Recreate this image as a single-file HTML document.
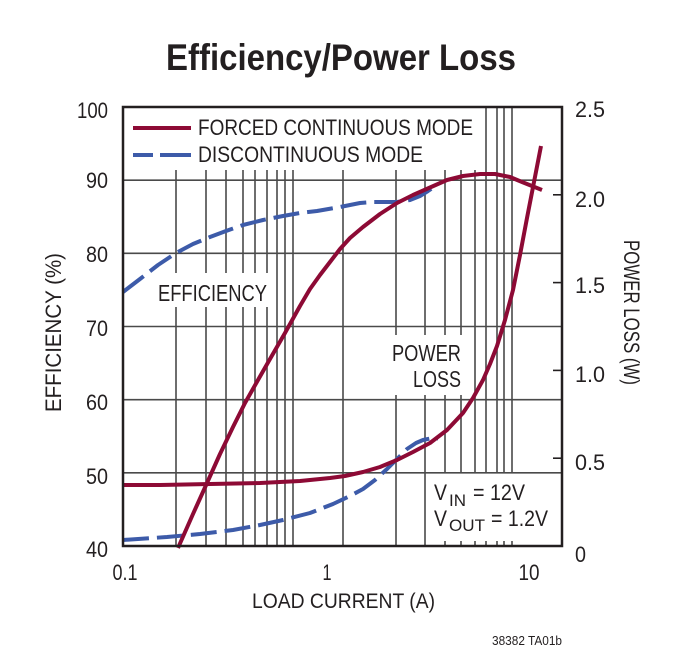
<!DOCTYPE html>
<html>
<head>
<meta charset="utf-8">
<style>
  html,body{margin:0;padding:0;background:#fff;}
  svg{display:block;}
  text{font-family:"Liberation Sans Narrow","Liberation Sans",sans-serif;fill:#231f20;}
</style>
</head>
<body>
<svg width="692" height="664" viewBox="0 0 692 664" xmlns="http://www.w3.org/2000/svg">
  <rect x="0" y="0" width="692" height="664" fill="#fff"/>

  <!-- Title -->
  <text x="166" y="70" font-size="37" font-weight="bold" textLength="350" lengthAdjust="spacingAndGlyphs">Efficiency/Power Loss</text>

  <!-- Horizontal grid -->
  <g stroke="#4a4a4a" stroke-width="1.6">
    <line x1="123" y1="180.2" x2="562" y2="180.2"/>
    <line x1="123" y1="253.3" x2="562" y2="253.3"/>
    <line x1="123" y1="326.5" x2="562" y2="326.5"/>
    <line x1="123" y1="399.7" x2="562" y2="399.7"/>
    <line x1="123" y1="472.8" x2="562" y2="472.8"/>
  </g>

  <!-- Vertical grid -->
  <g stroke="#4a4a4a" stroke-width="1.6">
    <!-- cut by legend and EFFICIENCY label -->
    <path d="M176 170V273M176 307V546
             M206 170V273M206 307V546
             M226 170V273M226 307V546
             M243 170V273M243 307V546
             M255 170V273M255 307V546
             M267 170V273M267 307V546"/>
    <!-- full below legend -->
    <path d="M277 170V546 M285 170V546 M293 170V546 M343 170V546"/>
    <!-- cut by POWER LOSS label -->
    <path d="M396 170V335M396 395V546
             M425 170V335M425 395V546"/>
    <path d="M445 170V335M445 395V473M445 541V546
             M461 170V335M461 395V473M461 541V546"/>
    <path d="M475 170V473M475 541V546"/>
    <path d="M486 107V473M486 541V546
             M497 107V473M497 541V546
             M504 107V473M504 541V546
             M512 107V473M512 541V546"/>
  </g>

  <!-- Right ticks -->
  <g stroke="#231f20" stroke-width="1.6">
    <line x1="553" y1="194.8" x2="562" y2="194.8"/>
    <line x1="553" y1="282.6" x2="562" y2="282.6"/>
    <line x1="553" y1="370.4" x2="562" y2="370.4"/>
    <line x1="553" y1="458.2" x2="562" y2="458.2"/>
  </g>

  <!-- Curves -->
  <g fill="none" stroke-width="4" stroke-linejoin="round" stroke-linecap="butt">
    <!-- DCM efficiency (blue dashed) -->
    <polyline stroke="#3d5ba9" stroke-dasharray="26 8"
      points="123,292 140,279 158,265 176,253 193,244 210,237 226,231 243,225 263,220 283,216 300,213 317,211 340,207 360,203 373,202 385,202 397,202 410,200 420,196 428,191 434,187"/>
    <!-- DCM power loss (blue dashed) -->
    <polyline stroke="#3d5ba9" stroke-dasharray="26 8"
      points="123,540 167,537 200,534 233,530 260,525 283,520 310,513 333,504 350,496 363,489 375,480 387,469 397,459 407,449 416,443 423,440 430,438.5 438,438.5"/>
    <!-- CCM efficiency (red) -->
    <polyline stroke="#8d0a35"
      points="178,548 193,514 207,483 220,454 233,427 245,403 258,380 270,359 285,333 300,306 310,289 320,275 330,262 340,249 350,238 363,227 380,214 397,203 413,195 430,187.5 447,180 463,176 480,174 495,174 510,177 522,182 537,188 542,190"/>
    <!-- CCM power loss (red) -->
    <polyline stroke="#8d0a35"
      points="123,485 160,485 210,484 260,483 300,481 330,478 345,476 363,472 380,467 397,460 413,452 430,443 447,430 463,413 473,398 483,380 490,364 497,346 505,320 513,290 520,255 527,218 534,182 541,146"/>
  </g>

  <!-- Frame -->
  <rect x="123" y="107" width="439" height="439" fill="none" stroke="#231f20" stroke-width="2.5"/>

  <!-- Legend -->
  <line x1="133" y1="128" x2="191" y2="128" stroke="#8d0a35" stroke-width="4"/>
  <line x1="133" y1="155" x2="153" y2="155" stroke="#3d5ba9" stroke-width="4"/>
  <line x1="160" y1="155" x2="191" y2="155" stroke="#3d5ba9" stroke-width="4"/>
  <text x="198" y="135" font-size="22" textLength="275" lengthAdjust="spacingAndGlyphs">FORCED CONTINUOUS MODE</text>
  <text x="198" y="162" font-size="22" textLength="225" lengthAdjust="spacingAndGlyphs">DISCONTINUOUS MODE</text>

  <!-- In-plot labels -->
  <text x="158" y="301" font-size="23" textLength="109" lengthAdjust="spacingAndGlyphs">EFFICIENCY</text>
  <text x="392" y="361" font-size="23" textLength="69" lengthAdjust="spacingAndGlyphs">POWER</text>
  <text x="413" y="387" font-size="23" textLength="48" lengthAdjust="spacingAndGlyphs">LOSS</text>

  <!-- VIN / VOUT -->
  <text x="434" y="500" font-size="22" textLength="13" lengthAdjust="spacingAndGlyphs">V</text>
  <text x="449" y="506" font-size="17" textLength="17" lengthAdjust="spacingAndGlyphs">IN</text>
  <text x="473" y="500" font-size="22" textLength="52" lengthAdjust="spacingAndGlyphs">= 12V</text>
  <text x="434" y="526" font-size="22" textLength="13" lengthAdjust="spacingAndGlyphs">V</text>
  <text x="449" y="531" font-size="17" textLength="36" lengthAdjust="spacingAndGlyphs">OUT</text>
  <text x="491" y="526" font-size="22" textLength="57" lengthAdjust="spacingAndGlyphs">= 1.2V</text>

  <!-- Left tick labels -->
  <g font-size="22" text-anchor="end">
    <text x="108" y="118" textLength="31" lengthAdjust="spacingAndGlyphs">100</text>
    <text x="108" y="188" textLength="22" lengthAdjust="spacingAndGlyphs">90</text>
    <text x="108" y="262" textLength="22" lengthAdjust="spacingAndGlyphs">80</text>
    <text x="108" y="336" textLength="22" lengthAdjust="spacingAndGlyphs">70</text>
    <text x="108" y="410" textLength="22" lengthAdjust="spacingAndGlyphs">60</text>
    <text x="108" y="484" textLength="22" lengthAdjust="spacingAndGlyphs">50</text>
    <text x="108" y="557" textLength="22" lengthAdjust="spacingAndGlyphs">40</text>
  </g>

  <!-- Right tick labels -->
  <g font-size="22">
    <text x="575" y="117" textLength="30" lengthAdjust="spacingAndGlyphs">2.5</text>
    <text x="575" y="207" textLength="30" lengthAdjust="spacingAndGlyphs">2.0</text>
    <text x="575" y="293" textLength="30" lengthAdjust="spacingAndGlyphs">1.5</text>
    <text x="575" y="382" textLength="30" lengthAdjust="spacingAndGlyphs">1.0</text>
    <text x="575" y="470" textLength="30" lengthAdjust="spacingAndGlyphs">0.5</text>
    <text x="575" y="562" textLength="11" lengthAdjust="spacingAndGlyphs">0</text>
  </g>

  <!-- X tick labels -->
  <g font-size="22" text-anchor="middle">
    <text x="125" y="580" textLength="25" lengthAdjust="spacingAndGlyphs">0.1</text>
    <text x="327" y="580" textLength="9" lengthAdjust="spacingAndGlyphs">1</text>
    <text x="529" y="580" textLength="21" lengthAdjust="spacingAndGlyphs">10</text>
  </g>

  <!-- Axis titles -->
  <text x="252" y="608" font-size="21" textLength="183" lengthAdjust="spacingAndGlyphs">LOAD CURRENT (A)</text>
  <text transform="translate(61,332.5) rotate(-90)" x="0" y="0" font-size="22" text-anchor="middle" textLength="159" lengthAdjust="spacingAndGlyphs">EFFICIENCY (%)</text>
  <text transform="translate(624,312.5) rotate(90)" x="0" y="0" font-size="22" text-anchor="middle" textLength="145" lengthAdjust="spacingAndGlyphs">POWER LOSS (W)</text>

  <!-- Footnote -->
  <text x="492" y="645" font-size="13" textLength="70" lengthAdjust="spacingAndGlyphs">38382 TA01b</text>
</svg>
</body>
</html>
